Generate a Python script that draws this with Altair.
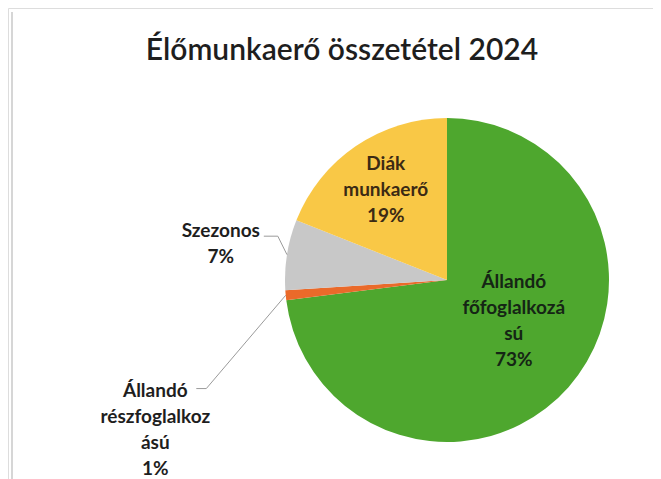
import math
import altair as alt
import pandas as pd

# ---- data ----
categories = ["Állandó főfoglalkozású", "Állandó részfoglalkozású", "Szezonos", "Diák munkaerő"]
values = [73, 1, 7, 19]
label_texts = ["Állandó\nfőfoglalkozá\nsú\n73%", "Állandó\nrészfoglalkoz\nású\n1%", "Szezonos\n7%", "Diák\nmunkaerő\n19%"]
colors = ["#4ea72e", "#ea6a2a", "#c8c8c8", "#f9c846"]
title_text = "Élőmunkaerő  összetétel 2024"

# ---- layout ----
W, H = 645, 471
CX, CY, R = 439, 272, 162
FONT = "Lato"
LABEL_SIZE = 19
LINE_H = 26

df = pd.DataFrame({"cat": categories, "value": values, "label": label_texts,
                   "order": list(range(len(categories)))})

# label placement (polar radius + pixel nudge of the block centre), per category
label_layout = {
    "Diák munkaerő": dict(radius=109, dx=0, dy=0, color="#3b2a14"),
    "Állandó főfoglalkozású": dict(radius=89, dx=0, dy=-18, color="#152515"),
    "Szezonos": dict(radius=229, dx=0, dy=0, color="#1e1e1e"),
    "Állandó részfoglalkozású": dict(radius=293, dx=0, dy=122, color="#1e1e1e"),
}
# leader anchors relative to label block centre
leader_anchor = {
    "Szezonos": [(43, -8), (57, -8)],
    "Állandó részfoglalkozású": [(41, -41), (51, -41)],
}

total = sum(values)
mids = {}
cum = 0
for c, v in zip(categories, values):
    mids[c] = 2 * math.pi * (cum + v / 2) / total
    cum += v

rows = []
for c, anchors in leader_anchor.items():
    th = mids[c]
    lay = label_layout[c]
    lx = CX + lay["radius"] * math.sin(th) + lay["dx"]
    ly = CY - lay["radius"] * math.cos(th) + lay["dy"]
    seq = 0
    for ax, ay in anchors:
        rows.append({"cat": c, "seq": seq, "x": lx + ax, "y": ly + ay})
        seq += 1
    rows.append({"cat": c, "seq": seq, "x": CX + R * math.sin(th), "y": CY - R * math.cos(th)})
leaders = pd.DataFrame(rows)

base = alt.Chart(df).encode(
    theta=alt.Theta("value:Q", stack=True),
    order=alt.Order("order:Q", sort="ascending"),
)

pie = base.mark_arc(outerRadius=R).encode(
    color=alt.Color("cat:N", scale=alt.Scale(domain=categories, range=colors), legend=None),
    x=alt.value(CX), y=alt.value(CY),
)

text_layers = []
for c, lay in label_layout.items():
    n_lines = label_texts[categories.index(c)].count("\n") + 1
    t = base.transform_calculate(
        txt=f"datum.cat === {c!r} ? datum.label : ''"
    ).mark_text(
        radius=lay["radius"], dx=lay["dx"], dy=lay["dy"] - (n_lines - 1) * LINE_H / 2,
        font=FONT, fontSize=LABEL_SIZE, fontWeight="bold", color=lay["color"],
        lineBreak="\n", lineHeight=LINE_H, align="center", baseline="middle",
    ).encode(text="txt:N", x=alt.value(CX), y=alt.value(CY))
    text_layers.append(t)

lead = alt.Chart(leaders).mark_line(color="#9a9a9a", strokeWidth=1).encode(
    x=alt.X("x:Q", scale=None, axis=None),
    y=alt.Y("y:Q", scale=None, axis=None),
    detail="cat:N",
    order="seq:Q",
)

border = alt.Chart(df).mark_rule(color="#d6d6d6", strokeWidth=2).encode(
    x=alt.value(4), y=alt.value(4), y2=alt.value(H)
)

title = alt.Chart(pd.DataFrame({"t": [title_text]})).mark_text(
    font=FONT, fontSize=30, fontWeight=600, color="#1e1e1e",
    align="center", baseline="alphabetic",
).encode(text="t:N", x=alt.value(334), y=alt.value(52))

chart = alt.layer(border, pie, lead, *text_layers, title).properties(
    width=W, height=H,
    autosize=alt.AutoSizeParams(type="none"),
    padding=0,
).configure_view(stroke=None).configure(background="white")

chart.save("out.html", embed_options={"renderer": "svg", "actions": False})
